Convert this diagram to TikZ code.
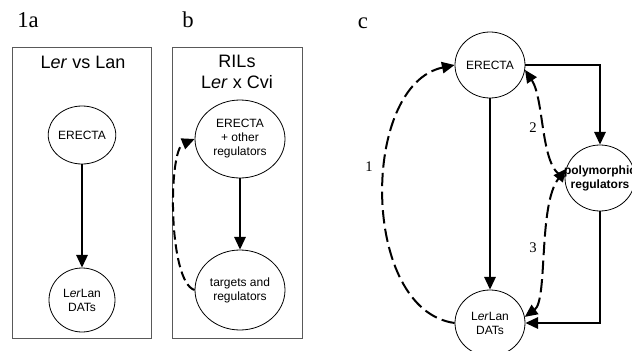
\documentclass[tikz,border=0pt]{standalone}
\usepackage{fontspec}
\setmainfont{Liberation Serif}
\setsansfont{Liberation Sans}
\usetikzlibrary{arrows.meta,shapes.geometric}

\tikzset{
	gene/.style={draw, ellipse, line width=0.6pt, inner sep=0pt, align=center,
		font=\sffamily\fontsize{9}{10.5}\selectfont},
	act/.style={line width=1.5pt, -{Triangle[length=9.5pt,width=8.5pt]}},
	feed/.style={line width=1.5pt, dash pattern=on 10pt off 4pt, -{Triangle[length=9.5pt,width=8.5pt]}},
	panel/.style={draw=black!65, line width=0.6pt},
	tag/.style={font=\fontsize{17}{19}\selectfont},
	num/.style={font=\fontsize{11}{13}\selectfont},
	head/.style={font=\sffamily\fontsize{13.5}{15.5}\selectfont, align=center}
}

\begin{document}
\begin{tikzpicture}[x=0.75pt,y=-0.75pt]
	
	\useasboundingbox (0,0) rectangle (632,350);
	
	% panel a
	\draw[panel] (12,47) rectangle (151,338);
	\node[tag] (la) at (28,20) {1a};
	\node[head] (ta) at (83,62) {L\textit{er} vs Lan};
	\node[gene, minimum width=49.5pt, minimum height=43.5pt] (era) at (82,135) {ERECTA};
	\node[gene, minimum width=49.5pt, minimum height=48pt] (data) at (82,300) {L\textit{er}Lan\\DATs};
	\draw[act] (era) -- (data);
	
	% panel b
	\draw[panel] (172,47) rectangle (302,338);
	\node[tag] (lb) at (188,20) {b};
	\node[head] (tb) at (237,72) {RILs\\L\textit{er} x Cvi};
	\node[gene, minimum width=67.5pt, minimum height=58.5pt] (erb) at (240,139) {ERECTA\\+ other\\regulators};
	\node[gene, minimum width=67.5pt, minimum height=60pt] (tgb) at (240,290) {targets and\\regulators};
	\draw[act] (erb) -- (tgb);
	\draw[feed, dash pattern=on 7pt off 3.5pt] (tgb.west) .. controls (168,282) and (168,150) .. (erb.west);
	
	% panel c
	\node[tag] (lc) at (363,23) {c};
	\node[gene, minimum width=52.5pt, minimum height=49.5pt] (erc) at (490,65) {ERECTA};
	\node[gene, minimum width=52.5pt, minimum height=49.5pt] (datc) at (490,323) {L\textit{er}Lan\\DATs};
	\node[gene, minimum width=52.5pt, minimum height=49.5pt] (poly) at (600,178) {};
	\node[align=center, inner sep=0pt, font=\sffamily\bfseries\fontsize{9}{10.5}\selectfont]
		(polyt) at (poly) {polymorphic\\regulators};
	
	\draw[act] (erc) -- (datc);
	\draw[act] (erc.east) -| (poly.north);
	\draw[act] (poly.south) |- (datc.east);
	
	\draw[feed] (datc.west) .. controls (360,310) and (360,85) .. (erc.west);
	\draw[feed] (poly.178) .. controls (540,172) and (545,100) .. (erc.-8);
	\draw[feed, {Triangle[length=9.5pt,width=8.5pt]}-{Triangle[length=9.5pt,width=8.5pt]}]
		(datc.10) .. controls (548,300) and (538,205) .. (poly.165);
	
	\node[num] (n1) at (369,167) {1};
	\node[num] (n2) at (533,128) {2};
	\node[num] (n3) at (533,248) {3};
	
\end{tikzpicture}
\end{document}
